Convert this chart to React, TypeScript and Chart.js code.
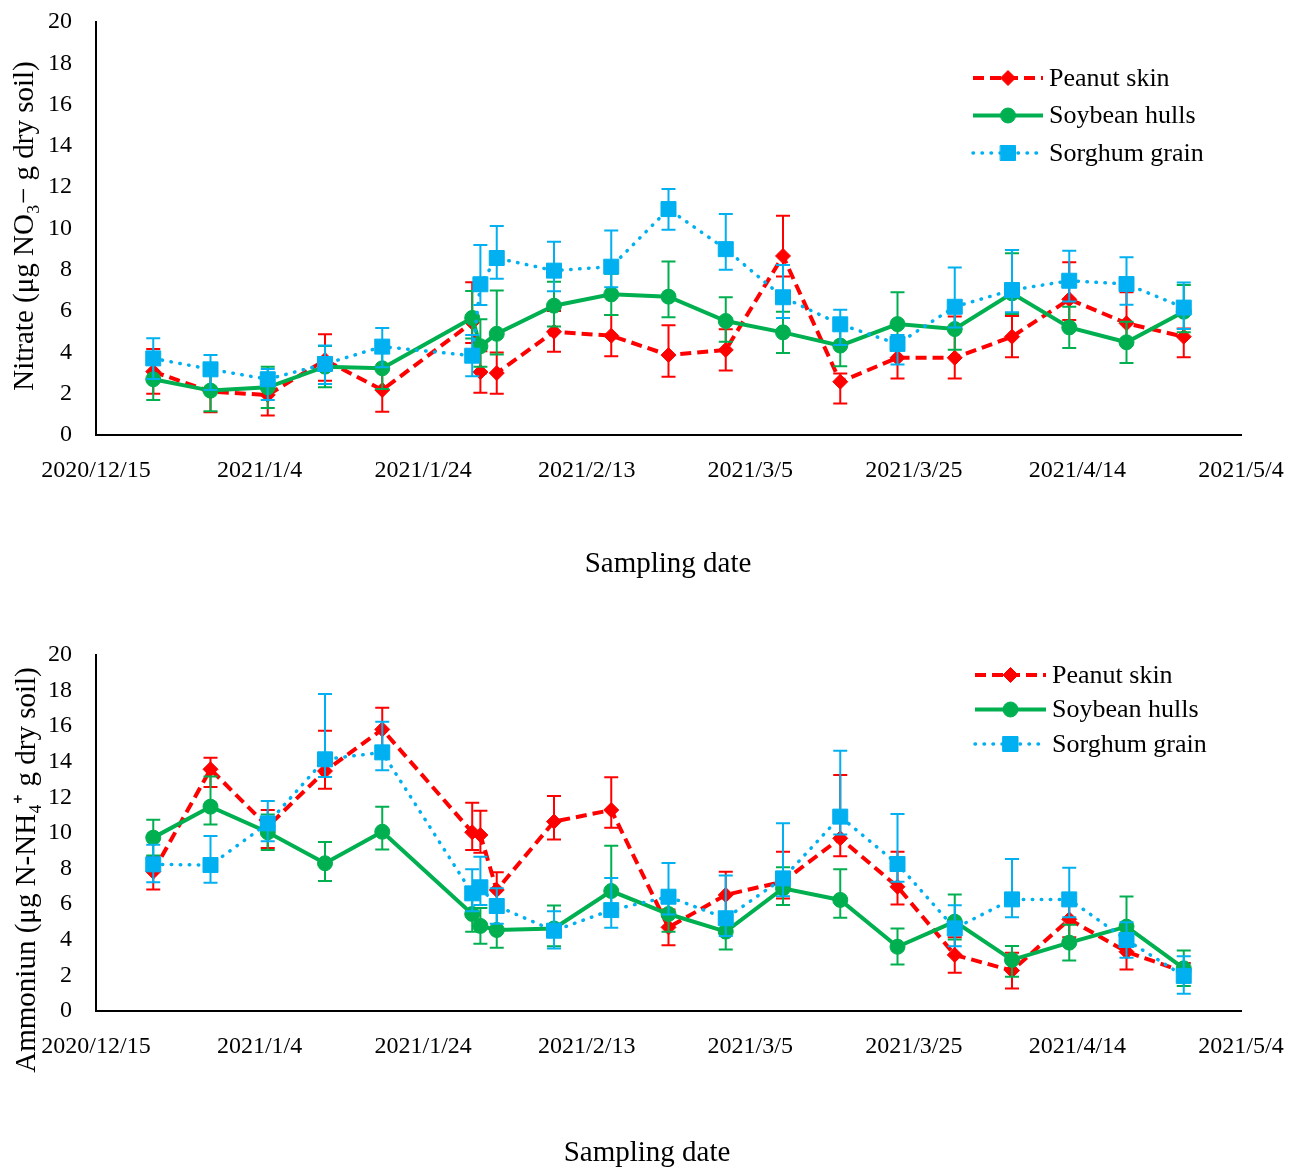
import React, { useEffect, useRef } from "react";
import { Chart, registerables } from "chart.js";

Chart.register(...registerables);

// ---------- data ----------
const X_TICK_LABELS = ["2020/12/15", "2021/1/4", "2021/1/24", "2021/2/13", "2021/3/5", "2021/3/25", "2021/4/14", "2021/5/4"];
// sampling days counted from 2020/12/15
const DAYS = [7, 14, 21, 28, 35, 46, 47, 49, 56, 63, 70, 77, 84, 91, 98, 105, 112, 119, 126, 133];
const SERIES_NAMES = ["Peanut skin", "Soybean hulls", "Sorghum grain"];

// Nitrate panel
const NITRATE_PEANUT = [3.07, 2.1, 1.94, 3.63, 2.18, 5.45, 3.05, 3.0, 5.0, 4.81, 3.87, 4.12, 8.67, 2.58, 3.74, 3.74, 4.76, 6.57, 5.41, 4.76];
const NITRATE_SOYBEAN = [2.7, 2.15, 2.31, 3.31, 3.23, 5.67, 4.3, 4.9, 6.26, 6.81, 6.7, 5.52, 4.97, 4.33, 5.37, 5.13, 6.86, 5.21, 4.49, 5.97];
const NITRATE_SORGHUM = [3.71, 3.18, 2.7, 3.44, 4.28, 3.84, 7.3, 8.57, 7.96, 8.15, 10.94, 9.0, 6.67, 5.36, 4.41, 6.21, 7.02, 7.47, 7.31, 6.17];
const NITRATE_PEANUT_ERR_UP = [1.1, 1.0, 1.0, 1.25, 1.0, 1.95, 1.0, 1.0, 1.0, 1.0, 1.45, 1.0, 1.95, 0.4, 1.0, 2.0, 1.0, 1.8, 1.5, 0.4];
const NITRATE_PEANUT_ERR_DOWN = [1.07, 1.0, 1.0, 1.0, 1.05, 1.0, 1.0, 1.0, 0.97, 1.0, 1.05, 1.0, 1.0, 1.05, 1.0, 1.0, 1.0, 1.0, 1.0, 1.0];
const NITRATE_SOYBEAN_ERR_UP = [1.0, 1.0, 1.0, 1.0, 1.0, 1.3, 1.3, 2.1, 1.16, 1.0, 1.7, 1.15, 1.0, 1.0, 1.54, 1.0, 1.94, 1.0, 1.0, 1.29];
const NITRATE_SOYBEAN_ERR_DOWN = [1.0, 1.0, 1.0, 1.0, 1.0, 1.0, 1.0, 1.0, 1.0, 1.0, 1.0, 1.0, 1.0, 1.0, 1.0, 1.0, 1.0, 1.0, 1.0, 1.0];
const NITRATE_SORGHUM_ERR_UP = [0.97, 0.7, 0.5, 0.9, 0.9, 1.0, 1.9, 1.55, 1.4, 1.75, 0.97, 1.7, 1.56, 0.7, 0.43, 1.9, 1.94, 1.45, 1.3, 1.22];
const NITRATE_SORGHUM_ERR_DOWN = [1.0, 1.0, 1.0, 0.97, 1.0, 1.0, 1.0, 1.0, 1.0, 1.0, 1.0, 1.0, 1.0, 1.0, 1.0, 1.0, 1.08, 1.0, 1.0, 1.04];

// Ammonium panel
const AMMONIUM_PEANUT = [7.83, 13.58, 10.36, 13.48, 15.82, 10.04, 9.89, 6.8, 10.64, 11.29, 4.7, 6.52, 7.27, 9.7, 6.98, 3.15, 2.27, 5.15, 3.33, 2.2];
const AMMONIUM_SOYBEAN = [9.74, 11.48, 10.04, 8.3, 10.07, 5.45, 4.78, 4.55, 4.64, 6.74, 5.45, 4.46, 6.89, 6.24, 3.61, 5.02, 2.87, 3.84, 4.74, 2.4];
const AMMONIUM_SORGHUM = [8.24, 8.2, 10.54, 14.14, 14.53, 6.61, 6.95, 5.9, 4.51, 5.67, 6.42, 5.21, 7.45, 10.92, 8.26, 4.64, 6.27, 6.27, 3.99, 1.97];
const AMMONIUM_PEANUT_ERR_UP = [0.84, 0.65, 0.93, 2.27, 1.22, 1.66, 1.36, 1.0, 1.44, 1.84, 1.0, 1.3, 1.68, 3.56, 1.97, 1.0, 1.0, 1.0, 1.0, 0.5];
const AMMONIUM_PEANUT_ERR_DOWN = [1.0, 1.0, 1.2, 1.0, 1.0, 1.0, 1.0, 1.0, 1.0, 1.0, 1.0, 1.0, 0.95, 1.0, 1.0, 1.0, 1.0, 1.0, 1.0, 0.5];
const AMMONIUM_SOYBEAN_ERR_UP = [1.0, 1.7, 1.0, 1.2, 1.4, 1.0, 1.0, 1.0, 1.28, 2.55, 1.0, 1.0, 1.18, 1.72, 1.03, 1.53, 0.78, 1.0, 1.69, 1.0];
const AMMONIUM_SOYBEAN_ERR_DOWN = [1.0, 1.0, 1.0, 1.0, 1.0, 1.0, 1.0, 1.0, 1.0, 1.0, 1.0, 1.0, 0.93, 1.0, 1.0, 1.0, 0.94, 1.0, 1.0, 1.0];
const AMMONIUM_SORGHUM_ERR_UP = [1.1, 1.63, 1.26, 3.67, 1.72, 1.35, 1.72, 1.0, 1.1, 1.8, 1.9, 2.4, 3.1, 3.7, 2.81, 1.3, 2.27, 1.78, 1.0, 1.1];
const AMMONIUM_SORGHUM_ERR_DOWN = [1.0, 1.0, 1.0, 1.0, 1.0, 1.0, 1.0, 1.0, 1.0, 1.0, 1.0, 1.0, 1.0, 1.0, 1.0, 1.0, 1.0, 1.0, 1.0, 1.0];

const Y_TICK_MIN = 0;
const Y_TICK_MAX = 20;
const Y_TICK_STEP = 2;
const X_TICK_STEP = 20;

// ---------- styles ----------
const FONT = "'Liberation Serif', 'Times New Roman', serif";
const RED = "#FF0000";
const GREEN = "#00B050";
const BLUE = "#00B0F0";

const SERIES_STYLES = [
  { color: RED, pointStyle: "rectRot", radius: 7.5, dash: [11, 6], cap: "butt", width: 4, order: 3 },
  { color: GREEN, pointStyle: "circle", radius: 7.5, dash: [], cap: "butt", width: 4, order: 2 },
  { color: BLUE, pointStyle: "rect", radius: 10.6, dash: [0.5, 8.5], cap: "round", width: 3.5, order: 1 },
];

const W = 1298;

const errorBarsPlugin = {
  id: "errorBars",
  beforeDatasetDraw(chart: any, args: any) {
    const ds = chart.data.datasets[args.index];
    if (!ds.errUp) return;
    const { ctx, scales } = chart;
    const xs = scales.x;
    const ys = scales.y;
    ctx.save();
    ctx.strokeStyle = ds.borderColor;
    ctx.lineWidth = 2;
    ctx.setLineDash([]);
    ds.data.forEach((p: any, i: number) => {
      const px = xs.getPixelForValue(p.x);
      const top = ys.getPixelForValue(p.y + ds.errUp[i]);
      const bot = ys.getPixelForValue(p.y - ds.errDown[i]);
      ctx.beginPath();
      ctx.moveTo(px, top);
      ctx.lineTo(px, bot);
      ctx.moveTo(px - 7, top);
      ctx.lineTo(px + 7, top);
      ctx.moveTo(px - 7, bot);
      ctx.lineTo(px + 7, bot);
      ctx.stroke();
    });
    ctx.restore();
  },
};

function drawMarker(ctx: CanvasRenderingContext2D, style: string, x: number, y: number, r: number) {
  ctx.beginPath();
  if (style === "circle") {
    ctx.arc(x, y, r, 0, Math.PI * 2);
  } else if (style === "rect") {
    const s = Math.SQRT1_2 * r;
    ctx.rect(x - s, y - s, 2 * s, 2 * s);
  } else {
    ctx.moveTo(x, y - r);
    ctx.lineTo(x + r, y);
    ctx.lineTo(x, y + r);
    ctx.lineTo(x - r, y);
    ctx.closePath();
  }
  ctx.fill();
  ctx.stroke();
}

const decorPlugin = {
  id: "decor",
  afterDraw(chart: any, _args: any, opts: any) {
    const { ctx } = chart;
    ctx.save();
    // axis titles
    ctx.fillStyle = "#000";
    ctx.font = `29px ${FONT}`;
    ctx.textAlign = "center";
    ctx.textBaseline = "middle";
    ctx.fillText(opts.xTitle.text, opts.xTitle.x, opts.xTitle.y);
    ctx.save();
    ctx.translate(opts.yTitle.x, opts.yTitle.y);
    ctx.rotate(-Math.PI / 2);
    ctx.fillText(opts.yTitle.text, 0, 0);
    ctx.restore();
    // legend
    const lg = opts.legend;
    chart.data.datasets.forEach((ds: any, i: number) => {
      const y = lg.y + i * lg.rowGap;
      ctx.save();
      ctx.strokeStyle = ds.borderColor;
      ctx.lineWidth = ds.borderWidth;
      ctx.setLineDash(ds.borderDash || []);
      ctx.lineCap = ds.borderCapStyle || "butt";
      ctx.beginPath();
      ctx.moveTo(lg.x, y);
      ctx.lineTo(lg.x + lg.lineLen, y);
      ctx.stroke();
      ctx.setLineDash([]);
      ctx.fillStyle = ds.backgroundColor;
      ctx.strokeStyle = ds.borderColor;
      ctx.lineWidth = 1;
      drawMarker(ctx, ds.pointStyle, lg.x + lg.lineLen / 2, y, ds.pointRadius);
      ctx.restore();
      ctx.fillStyle = "#000";
      ctx.font = `26px ${FONT}`;
      ctx.textAlign = "left";
      ctx.textBaseline = "middle";
      ctx.fillText(ds.label, lg.x + lg.lineLen + lg.textGap, y + 1);
    });
    ctx.restore();
  },
};

type Panel = {
  series: number[][];
  errUp: number[][];
  errDown: number[][];
  height: number;
  padTop: number;
  plotBottom: number;
  yTitle: string;
  yTitlePos: { x: number; y: number };
  xTitlePos: { x: number; y: number };
  legend: { x: number; y: number; rowGap: number; lineLen: number; textGap: number };
};

function buildConfig(p: Panel): any {
  const datasets = SERIES_NAMES.map((name, si) => {
    const st = SERIES_STYLES[si];
    return {
      label: name,
      data: DAYS.map((d, i) => ({ x: d, y: p.series[si][i] })),
      errUp: p.errUp[si],
      errDown: p.errDown[si],
      borderColor: st.color,
      backgroundColor: st.color,
      borderWidth: st.width,
      borderDash: st.dash,
      borderCapStyle: st.cap,
      pointStyle: st.pointStyle,
      pointRadius: st.radius,
      pointHoverRadius: st.radius,
      pointBorderWidth: 1,
      pointBackgroundColor: st.color,
      pointBorderColor: st.color,
      tension: 0,
      order: st.order,
      clip: false,
    };
  });
  const hiddenGrid = (len: number) => ({
    display: true,
    drawOnChartArea: false,
    drawTicks: true,
    tickLength: len,
    color: "rgba(0,0,0,0)",
  });
  return {
    type: "line",
    data: { datasets },
    plugins: [errorBarsPlugin, decorPlugin],
    options: {
      responsive: false,
      animation: false,
      events: [],
      layout: { padding: { top: p.padTop, right: W - 1241, bottom: 0, left: 0 } },
      plugins: {
        legend: { display: false },
        tooltip: { enabled: false },
        decor: {
          xTitle: { text: "Sampling date", ...p.xTitlePos },
          yTitle: { text: p.yTitle, ...p.yTitlePos },
          legend: p.legend,
        },
      },
      scales: {
        x: {
          type: "linear",
          min: 0,
          max: (X_TICK_LABELS.length - 1) * X_TICK_STEP,
          grid: hiddenGrid(19),
          border: { display: true, color: "#000", width: 2 },
          ticks: {
            stepSize: X_TICK_STEP,
            padding: 2,
            color: "#000",
            maxRotation: 0,
            autoSkip: false,
            font: { family: FONT, size: 24 },
            callback: (v: number) => X_TICK_LABELS[Math.round(v / X_TICK_STEP)] ?? "",
          },
          afterFit: (s: any) => {
            s.height = p.height - p.plotBottom;
          },
        },
        y: {
          min: Y_TICK_MIN,
          max: Y_TICK_MAX,
          grid: hiddenGrid(22),
          border: { display: true, color: "#000", width: 2 },
          ticks: {
            stepSize: Y_TICK_STEP,
            padding: 2,
            color: "#000",
            font: { family: FONT, size: 24 },
          },
          afterFit: (s: any) => {
            s.width = 96;
          },
        },
      },
    },
  };
}

const TOP_PANEL: Panel = {
  series: [NITRATE_PEANUT, NITRATE_SOYBEAN, NITRATE_SORGHUM],
  errUp: [NITRATE_PEANUT_ERR_UP, NITRATE_SOYBEAN_ERR_UP, NITRATE_SORGHUM_ERR_UP],
  errDown: [NITRATE_PEANUT_ERR_DOWN, NITRATE_SOYBEAN_ERR_DOWN, NITRATE_SORGHUM_ERR_DOWN],
  height: 590,
  padTop: 22,
  plotBottom: 435,
  yTitle: "Nitrate (μg NO₃− g dry soil)",
  yTitlePos: { x: 25, y: 226 },
  xTitlePos: { x: 668, y: 564 },
  legend: { x: 973, y: 78, rowGap: 37.5, lineLen: 70, textGap: 6 },
};

const BOTTOM_PANEL: Panel = {
  series: [AMMONIUM_PEANUT, AMMONIUM_SOYBEAN, AMMONIUM_SORGHUM],
  errUp: [AMMONIUM_PEANUT_ERR_UP, AMMONIUM_SOYBEAN_ERR_UP, AMMONIUM_SORGHUM_ERR_UP],
  errDown: [AMMONIUM_PEANUT_ERR_DOWN, AMMONIUM_SOYBEAN_ERR_DOWN, AMMONIUM_SORGHUM_ERR_DOWN],
  height: 577,
  padTop: 65,
  plotBottom: 421,
  yTitle: "Ammoniun (μg N-NH₄⁺ g dry soil)",
  yTitlePos: { x: 27, y: 280 },
  xTitlePos: { x: 647, y: 563 },
  legend: { x: 975, y: 85, rowGap: 34.5, lineLen: 71, textGap: 6 },
};

function PanelChart({ panel, top }: { panel: Panel; top: number }) {
  const ref = useRef<HTMLCanvasElement | null>(null);
  useEffect(() => {
    if (!ref.current) return;
    const chart = new Chart(ref.current, buildConfig(panel));
    return () => chart.destroy();
  }, [panel]);
  return (
    <canvas
      ref={ref}
      width={W}
      height={panel.height}
      style={{ position: "absolute", left: 0, top, width: W, height: panel.height }}
    />
  );
}

export default function App() {
  return (
    <div
      style={{
        position: "absolute",
        left: 0,
        top: 0,
        width: W,
        height: 1167,
        overflow: "hidden",
        background: "#fff",
      }}
    >
      <PanelChart panel={TOP_PANEL} top={0} />
      <PanelChart panel={BOTTOM_PANEL} top={590} />
    </div>
  );
}
